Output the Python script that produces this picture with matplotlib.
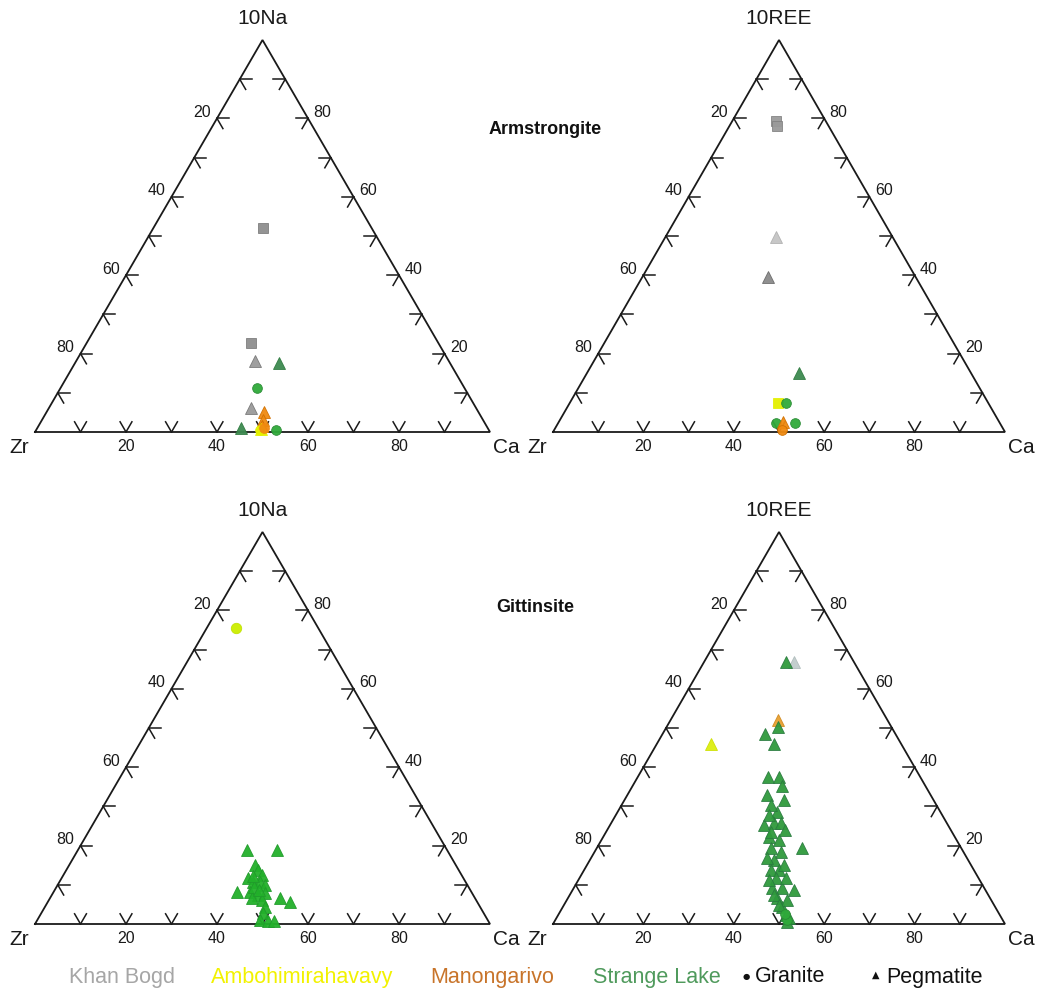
import numpy as np
import matplotlib
matplotlib.use("Agg")
import matplotlib.pyplot as plt
from matplotlib import font_manager

plt.rcParams['font.family'] = ['Liberation Sans', 'DejaVu Sans']

# ---------------- data: (Ca %, apex %) ----------------
# Armstrongite, 10Na
arm_na_khan_granite = [(24.1, 52.0), (36.1, 22.7)]
arm_na_khan_pegmatite = [(39.3, 18.1), (44.4, 6.1)]
arm_na_ambo_granite = [(49.2, 0.5)]
arm_na_ambo_pegmatite = [(49.2, 0.8)]
arm_na_mano_granite = [(49.8, 1.0)]
arm_na_mano_pegmatite = [(47.7, 5.1), (48.6, 3.1), (49.1, 1.5)]
arm_na_sl_granite = [(43.2, 11.2), (52.7, 0.5)]
arm_na_sl_pegmatite = [(44.8, 17.6), (44.8, 1.0)]

# Armstrongite, 10REE
arm_ree_khan_granite = [(9.6, 79.3), (10.6, 78.1)]
arm_ree_khan_pegmatite = [(24.4, 49.7), (27.8, 39.5)]
arm_ree_ambo_granite = [(46.1, 7.4)]
arm_ree_mano_granite = [(50.4, 0.5)]
arm_ree_mano_pegmatite = [(49.6, 2.6)]
arm_ree_sl_granite = [(47.8, 7.4), (48.1, 2.3), (52.3, 2.3)]
arm_ree_sl_pegmatite = [(46.9, 15.1)]

# Gittinsite, 10Na
git_na_ambo_granite = [(6.4, 75.5)]
git_na_sl_pegmatite = [
    (37.2, 18.9), (43.8, 18.9), (40.9, 15.1), (42.1, 13.8), (43.6, 12.5),
    (40.9, 11.7), (42.5, 10.7), (44.1, 10.7), (45.5, 9.9), (40.3, 8.2),
    (43.2, 8.2), (45.3, 7.4), (46.5, 7.9), (44.4, 6.6), (46.8, 6.1),
    (50.5, 6.6), (53.2, 5.6), (48.3, 4.3), (48.7, 2.8), (49.0, 1.0),
    (50.8, 0.8), (52.1, 0.8), (43.4, 9.4), (41.8, 12.2), (44.8, 8.8),
]

# Gittinsite, 10REE
git_ree_khan_pegmatite = [(19.9, 66.8)]
git_ree_ambo_pegmatite = [(12.0, 45.9)]
git_ree_mano_pegmatite = [(23.8, 52.0)]
git_ree_sl_granite = [(51.3, 1.0), (50.0, 2.6)]
git_ree_sl_pegmatite = [
    (18.1, 66.8), (24.7, 50.3), (22.7, 48.5), (25.9, 45.9),
    (28.8, 37.5), (31.2, 37.5), (33.1, 35.2), (30.9, 32.9), (35.3, 28.6),
    (34.1, 25.3), (36.0, 25.8), (37.5, 25.8), (36.7, 22.2), (39.3, 21.4),
    (38.5, 19.4), (41.2, 18.4), (40.7, 16.3), (43.1, 13.8), (41.3, 13.8),
    (43.4, 11.7), (43.9, 9.2), (46.1, 9.2), (46.3, 6.6), (48.5, 4.3),
    (50.3, 2.3), (51.5, 0.5), (51.4, 1.5), (45.4, 19.4), (49.0, 8.7),
    (36.5, 23.5), (33.0, 30.4), (35.3, 31.6), (33.9, 27.8), (39.3, 24.0),
    (39.0, 16.8), (43.6, 15.1), (42.2, 11.2), (45.6, 11.7), (45.2, 7.4),
    (48.7, 6.1), (47.6, 4.8),
]

tick_values = [10, 20, 30, 40, 50, 60, 70, 80, 90]
label_values = [20, 40, 60, 80]
legend_names = ["Khan Bogd", "Ambohimirahavavy", "Manongarivo", "Strange Lake"]
legend_text_colors = ["#a6a6a6", "#f2f200", "#c8742a", "#4f9a5c"]

C_KHAN = "#8e8e8e"
C_AMBO = "#e4f000"
C_MANO = "#f08a10"
C_SL = "#2faa3a"
C_SL_DARK = "#3d8a50"

S3 = np.sqrt(3) / 2

_names = {f.name for f in font_manager.fontManager.ttflist}
if "Liberation Sans Narrow" in _names:
    LEG_FAMILY, LEG_SIZE = ["Liberation Sans Narrow", "DejaVu Sans"], 18.5
else:
    LEG_FAMILY, LEG_SIZE = ["Liberation Sans", "DejaVu Sans"], 15.5


def cart(points):
    a = np.array(points, dtype=float)
    ca, x = a[:, 0] / 100.0, a[:, 1] / 100.0
    return ca + x / 2.0, x * S3


def draw_triangle(ax, apex_label):
    ax.set_xlim(0, 1)
    ax.set_ylim(0, S3)
    ax.axis("off")
    ax.plot([0, 1, 0.5, 0], [0, 0, S3, 0], color="#1a1a1a", lw=1.3,
            clip_on=False, solid_joinstyle="miter")
    L = 0.026
    for v in tick_values:
        f = v / 100.0
        p = np.array([f, 0.0])
        for ang in (60, 120):
            d = np.array([np.cos(np.radians(ang)), np.sin(np.radians(ang))])
            ax.plot(*zip(p, p + L * d), color="#1a1a1a", lw=1.1, clip_on=False)
        p = np.array([f / 2.0, f * S3])
        for ang in (0, -60):
            d = np.array([np.cos(np.radians(ang)), np.sin(np.radians(ang))])
            ax.plot(*zip(p, p + L * d), color="#1a1a1a", lw=1.1, clip_on=False)
        p = np.array([1 - f / 2.0, f * S3])
        for ang in (180, 240):
            d = np.array([np.cos(np.radians(ang)), np.sin(np.radians(ang))])
            ax.plot(*zip(p, p + L * d), color="#1a1a1a", lw=1.1, clip_on=False)
    for v in label_values:
        f = v / 100.0
        ax.text(f, -0.031, str(v), ha="center", va="center", fontsize=11.5,
                color="#1a1a1a")
        g = 1 - f
        ax.text(g / 2.0 - 0.014, g * S3 + 0.013, str(v), ha="right",
                va="center", fontsize=11.5, color="#1a1a1a")
        ax.text(1 - f / 2.0 + 0.012, f * S3 + 0.013, str(v), ha="left",
                va="center", fontsize=11.5, color="#1a1a1a")
    ax.text(-0.035, -0.035, "Zr", ha="center", va="center", fontsize=15,
            color="#1a1a1a")
    ax.text(1.036, -0.035, "Ca", ha="center", va="center", fontsize=15,
            color="#1a1a1a")
    ax.text(0.5, S3 + 0.047, apex_label, ha="center", va="center",
            fontsize=15, color="#1a1a1a")


def scatter(ax, pts, color, marker, edge=None, size=None):
    x, y = cart(pts)
    if size is None:
        size = 8 if marker == "^" else 7
    ax.plot(x, y, linestyle="none", marker=marker, markersize=size,
            markerfacecolor=color, markeredgecolor=edge or color,
            markeredgewidth=0.6, clip_on=False, alpha=0.95)


W, H = 1045, 994
fig = plt.figure(figsize=(W / 100, H / 100), dpi=100)


def axes_at(x0, x1, ybase, ytop):
    return fig.add_axes([x0 / W, (H - ybase) / H, (x1 - x0) / W, (ybase - ytop) / H])


ax1 = axes_at(35, 490, 432, 40)
ax2 = axes_at(553, 1005, 432, 40)
ax3 = axes_at(35, 490, 924, 532)
ax4 = axes_at(553, 1005, 924, 532)

draw_triangle(ax1, "10Na")
draw_triangle(ax2, "10REE")
draw_triangle(ax3, "10Na")
draw_triangle(ax4, "10REE")

# Armstrongite 10Na
scatter(ax1, arm_na_khan_granite, C_KHAN, "s", "#7a7a7a", 6.5)
scatter(ax1, arm_na_khan_pegmatite, "#9a9a9a", "^", "#777777")
scatter(ax1, arm_na_sl_pegmatite, C_SL_DARK, "^", "#2f7a40")
scatter(ax1, arm_na_sl_granite, C_SL, "o", "#2a8a35")
scatter(ax1, arm_na_mano_pegmatite, C_MANO, "^", "#d07000")
scatter(ax1, arm_na_ambo_pegmatite, C_AMBO, "^")
scatter(ax1, arm_na_ambo_granite, C_AMBO, "o")
scatter(ax1, arm_na_mano_granite, C_MANO, "o")

# Armstrongite 10REE
scatter(ax2, arm_ree_khan_granite, "#9a9a9a", "s", "#808080", 6.5)
scatter(ax2, arm_ree_khan_pegmatite[:1], "#c4c4c4", "^", "#b0b0b0")
scatter(ax2, arm_ree_khan_pegmatite[1:], "#8a8a8a", "^", "#6a6a6a")
scatter(ax2, arm_ree_sl_pegmatite, C_SL_DARK, "^", "#2f7a40")
scatter(ax2, arm_ree_ambo_granite, C_AMBO, "s", None, 6.5)
scatter(ax2, arm_ree_sl_granite, C_SL, "o", "#2a8a35")
scatter(ax2, arm_ree_mano_pegmatite, C_MANO, "^", "#d07000")
scatter(ax2, arm_ree_mano_granite, C_MANO, "o", "#d07000")

# Gittinsite 10Na
scatter(ax3, git_na_ambo_granite, "#ccee00", "o", "#c0e000", 7.5)
scatter(ax3, git_na_sl_pegmatite, "#22b02a", "^", "#1f9a2a")

# Gittinsite 10REE
scatter(ax4, git_ree_khan_pegmatite, "#c0cccc", "^", "#b0bcbc")
scatter(ax4, git_ree_ambo_pegmatite, "#ddee10", "^", "#cce000")
scatter(ax4, git_ree_mano_pegmatite, "#e8a030", "^", "#d08a20")
scatter(ax4, git_ree_sl_pegmatite, "#2f9a3c", "^", "#2a7a40")
scatter(ax4, git_ree_sl_granite, "#2faa3a", "o", "#2a8a35")

fig.text(545 / W, 1 - 130 / H, "Armstrongite", ha="center", va="center",
         fontsize=13, fontweight="bold", color="#111111")
fig.text(535 / W, 1 - 608 / H, "Gittinsite", ha="center", va="center",
         fontsize=13, fontweight="bold", color="#111111")

# legend
LEG_Y = 1 - 977 / H
leg_x = [122, 302, 492, 657]
for name, col, x in zip(legend_names, legend_text_colors, leg_x):
    fig.text(x / W, LEG_Y, name, ha="center", va="center",
             fontsize=LEG_SIZE, color=col, family=LEG_FAMILY)
fig.text(746 / W, LEG_Y, "\u25cf", ha="center", va="center",
         fontsize=6, color="#111111", family=["DejaVu Sans"])
fig.text(755 / W, LEG_Y, "Granite", ha="left", va="center",
         fontsize=LEG_SIZE, color="#111111", family=LEG_FAMILY)
fig.text(876 / W, LEG_Y + 0.002, "\u25b2", ha="center", va="center",
         fontsize=7, color="#111111", family=["DejaVu Sans"])
fig.text(886 / W, LEG_Y, "Pegmatite", ha="left", va="center",
         fontsize=LEG_SIZE, color="#111111", family=LEG_FAMILY)

fig.savefig("out.png", dpi=100, facecolor="white")
